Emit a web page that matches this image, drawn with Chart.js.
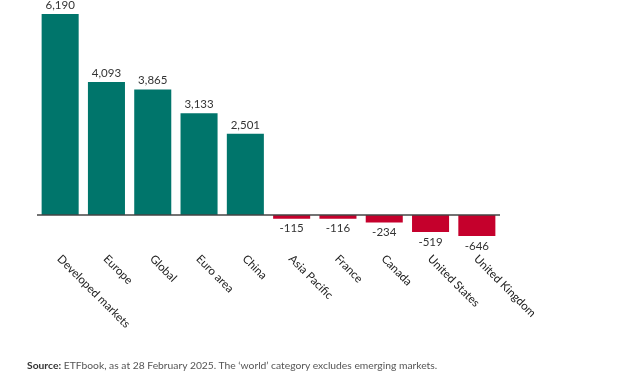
<!DOCTYPE html>
<html lang="en">
<head>
<meta charset="UTF-8">
<title>ETF flows by region</title>
<script src="https://cdn.jsdelivr.net/npm/chart.js"></script>
<style>
    body { margin: 0; background: #fff; font-family: "Lato", "Open Sans", sans-serif; }
    .wrap { position: relative; width: 627px; height: 381px; }
    .source {
        position: absolute; left: 27px; top: 359px;
        font-size: 10.3px; color: #555;
    }
    .source b { color: #333; }
</style>
</head>
<body>
<div class="wrap">
    <canvas id="flows" width="627" height="381"></canvas>
    <div class="source"><b>Source:</b> ETFbook, as at 28 February 2025. The ‘world’ category excludes emerging markets.</div>
</div>
<script>
const categories = ["Developed markets", "Europe", "Global", "Euro area", "China",
    "Asia Pacific", "France", "Canada", "United States", "United Kingdom"];
const flows = [6190, 4093, 3865, 3133, 2501, -115, -116, -234, -519, -646];

const green = "#00756b";
const red = "#c5002c";

// value labels, rotated category labels and zero line
const decorations = {
    id: "decorations",
    afterDatasetsDraw(chart) {
        const ctx = chart.ctx;
        const x = chart.scales.x, y = chart.scales.y;
        const meta = chart.getDatasetMeta(0);
        const zero = y.getPixelForValue(0);

        ctx.save();
        ctx.strokeStyle = "#444";
        ctx.lineWidth = 1.5;
        ctx.beginPath();
        ctx.moveTo(chart.chartArea.left, zero);
        ctx.lineTo(chart.chartArea.right, zero);
        ctx.stroke();

        ctx.fillStyle = "#333";
        ctx.font = "11.5px Lato, sans-serif";
        ctx.textAlign = "center";
        ctx.textBaseline = "middle";
        meta.data.forEach((bar, i) => {
            const v = flows[i];
            const txt = v.toLocaleString("en-US");
            const yy = v >= 0 ? bar.y - 9 : bar.y + 10;
            ctx.fillText(txt, bar.x, yy);
        });

        ctx.fillStyle = "#222";
        ctx.textAlign = "left";
        categories.forEach((c, i) => {
            const cx = x.getPixelForValue(i);
            ctx.save();
            ctx.translate(cx - 1, 257);
            ctx.rotate(Math.PI / 4);
            ctx.fillText(c, 0, 0);
            ctx.restore();
        });
        ctx.restore();
    }
};

new Chart(document.getElementById("flows"), {
    type: "bar",
    data: {
        labels: categories,
        datasets: [{
            data: flows,
            backgroundColor: flows.map(v => v >= 0 ? green : red),
            categoryPercentage: 0.8,
            barPercentage: 1.0
        }]
    },
    options: {
        responsive: false,
        animation: false,
        layout: { padding: { left: 37, right: 127, top: 14, bottom: 145 } },
        plugins: { legend: { display: false }, tooltip: { enabled: false } },
        scales: {
            x: { display: false },
            y: { display: false, min: -646, max: 6190 }
        }
    },
    plugins: [decorations]
});
</script>
</body>
</html>
